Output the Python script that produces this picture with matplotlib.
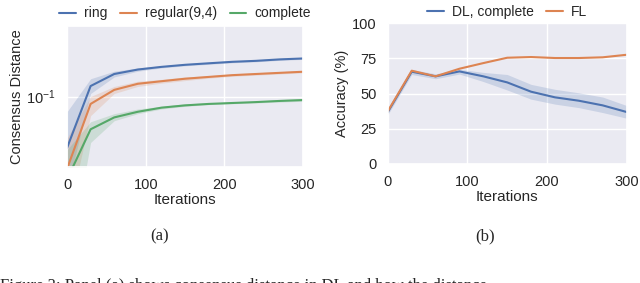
import numpy as np
import matplotlib
matplotlib.use('Agg')
import matplotlib.pyplot as plt
import seaborn as sns

iterations = [0, 30, 60, 90, 120, 150, 180, 210, 240, 270, 300]

# panel (a): consensus distance (log scale)
ring_mean = [0.0512, 0.1146, 0.134, 0.142, 0.147, 0.151, 0.154, 0.157, 0.159, 0.162, 0.164]
ring_low = [0.030, 0.104, 0.129, 0.139, 0.145, 0.149, 0.152, 0.155, 0.157, 0.160, 0.162]
ring_high = [0.082, 0.126, 0.139, 0.145, 0.149, 0.153, 0.156, 0.159, 0.161, 0.164, 0.166]

regular_mean = [0.039, 0.0908, 0.109, 0.118, 0.122, 0.126, 0.129, 0.132, 0.134, 0.136, 0.138]
regular_low = [0.020, 0.078, 0.104, 0.114, 0.119, 0.123, 0.127, 0.130, 0.132, 0.134, 0.136]
regular_high = [0.058, 0.100, 0.114, 0.122, 0.125, 0.129, 0.131, 0.134, 0.136, 0.138, 0.140]

complete_mean = [0.034, 0.0653, 0.0762, 0.082, 0.0865, 0.0891, 0.0908, 0.0919, 0.093, 0.0944, 0.0955]
complete_low = [0.010, 0.055, 0.073, 0.080, 0.085, 0.088, 0.090, 0.091, 0.092, 0.093, 0.094]
complete_high = [0.050, 0.072, 0.080, 0.085, 0.088, 0.091, 0.092, 0.093, 0.094, 0.096, 0.097]

# panel (b): accuracy
dl_mean = [36.9, 65.5, 62.2, 65.7, 62.2, 57.9, 51.3, 47.3, 44.9, 41.6, 36.9]
dl_low = [35.0, 63.5, 60.5, 63.8, 58.5, 52.5, 46.0, 42.5, 40.0, 36.5, 32.5]
dl_high = [39.0, 67.0, 64.0, 67.2, 65.0, 63.5, 56.5, 53.0, 50.5, 47.5, 41.5]

fl_mean = [37.5, 66.2, 62.2, 67.6, 71.6, 75.4, 75.9, 75.2, 75.2, 75.7, 77.5]

sns.set_theme(style='darkgrid')
plt.rcParams['font.family'] = ['Liberation Sans', 'DejaVu Sans']
pal = sns.color_palette('deep')

fig = plt.figure(figsize=(6.4, 2.83), dpi=100)
ax1 = fig.add_axes([0.1047, 0.41, 0.369, 0.498])
ax2 = fig.add_axes([0.606, 0.4205, 0.373, 0.498])

for mean, low, high, label, c in [
        (ring_mean, ring_low, ring_high, 'ring', pal[0]),
        (regular_mean, regular_low, regular_high, 'regular(9,4)', pal[1]),
        (complete_mean, complete_low, complete_high, 'complete', pal[2])]:
    ax1.fill_between(iterations, low, high, color=c, alpha=0.2, lw=0)
    ax1.plot(iterations, mean, color=c, lw=1.5, label=label)
ax1.set_yscale('log')
ax1.set_ylim(0.04, 0.25)
ax1.set_xlim(0, 300)
ax1.set_xticks([0, 100, 200, 300])
ax1.yaxis.set_minor_formatter(matplotlib.ticker.NullFormatter())
ax1.tick_params(labelsize=10.5, pad=2)
ax1.set_xlabel('Iterations', fontsize=11, labelpad=1)
ax1.set_ylabel('Consensus Distance', fontsize=10.5, labelpad=2)
ax1.legend(loc='lower center', bbox_to_anchor=(0.5, 1.0), ncol=3, frameon=False,
           fontsize=10, handlelength=1.2, columnspacing=0.9, handletextpad=0.6,
           borderaxespad=0)

ax2.fill_between(iterations, dl_low, dl_high, color=pal[0], alpha=0.2, lw=0)
ax2.plot(iterations, dl_mean, color=pal[0], lw=1.5, label='DL, complete')
ax2.plot(iterations, fl_mean, color=pal[1], lw=1.5, label='FL')
ax2.set_xlim(0, 300)
ax2.set_ylim(0, 100)
ax2.set_xticks([0, 100, 200, 300])
ax2.set_yticks([0, 25, 50, 75, 100])
ax2.tick_params(labelsize=10.5, pad=2)
ax2.set_xlabel('Iterations', fontsize=11, labelpad=1)
ax2.set_ylabel('Accuracy (%)', fontsize=10.5, labelpad=2)
ax2.legend(loc='lower center', bbox_to_anchor=(0.5, 0.99), ncol=2, frameon=False,
           fontsize=10, handlelength=1.2, columnspacing=0.9, handletextpad=0.6,
           borderaxespad=0)

fig.text(160 / 640, 1 - 236 / 283, '(a)', family='Liberation Serif', fontsize=12,
         ha='center', va='center')
fig.text(485 / 640, 1 - 236 / 283, '(b)', family='Liberation Serif', fontsize=12,
         ha='center', va='center')
fig.text(0.0, -0.04, 'Figure 3: Panel (a) shows consensus distance in DL and how the distance',
         family='Liberation Serif', fontsize=12, ha='left', va='bottom')

fig.savefig('out.png', dpi=100)
